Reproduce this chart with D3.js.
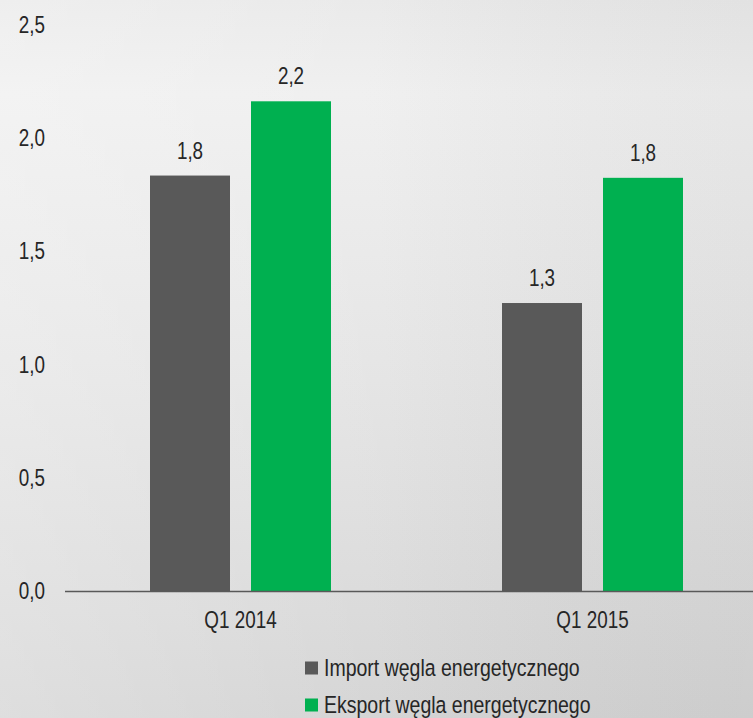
<!DOCTYPE html>
<html><head><meta charset="utf-8">
<script src="https://cdn.jsdelivr.net/npm/d3@7"></script>
<style>
html,body{margin:0;padding:0;background:#e6e6e6;}
svg{display:block;}
text{font-family:"Liberation Sans",Arial,sans-serif;fill:#262626;}
</style></head>
<body>
<svg id="chart" width="753" height="718"></svg>
<script>
const categories = ["Q1 2014", "Q1 2015"];
const seriesNames = ["Import węgla energetycznego", "Eksport węgla energetycznego"];
const importValues = [1.835, 1.272];
const exportValues = [2.163, 1.825];
const valueLabels = [["1,8", "1,3"], ["2,2", "1,8"]];
const yTicks = [0, 0.5, 1.0, 1.5, 2.0, 2.5];
const yTickLabels = ["0,0", "0,5", "1,0", "1,5", "2,0", "2,5"];
const colors = ["#595959", "#00b050"];

const W = 753, H = 718, SX = 0.82;
const svg = d3.select("#chart");
const defs = svg.append("defs");
const g1 = defs.append("linearGradient").attr("id","bgv").attr("x1",0).attr("y1",0).attr("x2",0).attr("y2",1);
[[0,"#e9e9e9"],[0.13,"#efefef"],[0.5,"#e5e5e5"],[0.85,"#d9d9d9"],[1,"#d3d3d3"]].forEach(s=>g1.append("stop").attr("offset",s[0]).attr("stop-color",s[1]));
const g2 = defs.append("linearGradient").attr("id","bgh").attr("x1",0).attr("y1",0).attr("x2",1).attr("y2",0);
[[0,"#ffffff",0.25],[0.5,"#ffffff",0.05],[1,"#000000",0.03]].forEach(s=>g2.append("stop").attr("offset",s[0]).attr("stop-color",s[1]).attr("stop-opacity",s[2]));
svg.append("rect").attr("width",W).attr("height",H).attr("fill","url(#bgv)");
svg.append("rect").attr("width",W).attr("height",H).attr("fill","url(#bgh)");

// narrow text helper
function ntext(parent, x, yy, str, size, anchor, dy, sx) {
  const t = parent.append("g").attr("transform", `translate(${x},${yy}) scale(${sx||SX},1)`)
    .append("text").attr("x",0).attr("y",0).attr("font-size",size)
    .attr("text-anchor",anchor||"start").text(str);
  if (dy) t.attr("dy", dy);
  return t;
}

const x0 = d3.scaleBand().domain(categories).range([64.5, 768.5]);
const x1 = d3.scaleBand().domain(seriesNames).range([0, 181]).paddingInner(21/101);
const y = d3.scaleLinear().domain([0, 2.5]).range([591, 25]);

const data = [importValues, exportValues];

// y labels
const yl = svg.append("g");
yTicks.forEach((d,i) => ntext(yl, 45, y(d), yTickLabels[i], 23, "end", "0.35em"));

// bars
categories.forEach((c, ci) => {
  const gx = x0(c) + (x0.bandwidth() - 181) / 2;
  seriesNames.forEach((s, si) => {
    const v = data[si][ci];
    svg.append("rect")
      .attr("x", gx + x1(s)).attr("y", y(v))
      .attr("width", x1.bandwidth()).attr("height", y(0) - y(v))
      .attr("fill", colors[si]);
    ntext(svg, gx + x1(s) + x1.bandwidth()/2, y(v) - 17, valueLabels[si][ci], 23, "middle");
  });
});

// x axis
const xAxis = d3.axisBottom(x0).tickSize(0).tickFormat("");
const ax = svg.append("g").attr("transform", `translate(0,${y(0)})`).call(xAxis);
ax.select(".domain").attr("stroke","#595959").attr("stroke-width",1.5);
categories.forEach(c => ntext(svg, x0(c) + x0.bandwidth()/2, 620, c, 23, "middle", "0.35em"));

// legend
const leg = svg.append("g");
seriesNames.forEach((s, i) => {
  const ly = 668 + i * 37;
  leg.append("rect").attr("x", 305).attr("y", ly - 6.5).attr("width", 13).attr("height", 13).attr("fill", colors[i]);
  ntext(leg, 324, ly, s, 23.5, "start", "0.35em", 0.83);
});
</script>
</body></html>
